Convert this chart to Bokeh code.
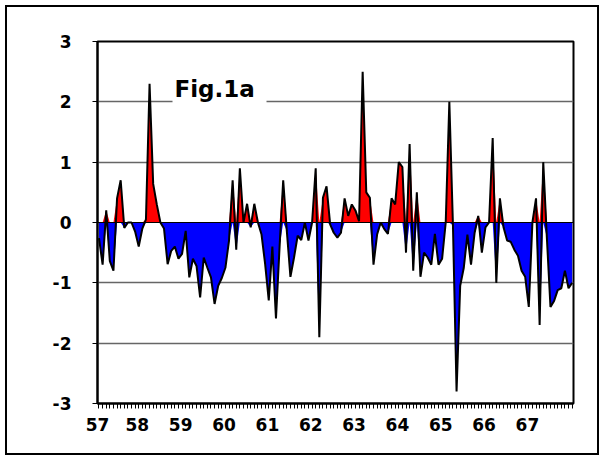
from bokeh.plotting import figure
from bokeh.models import FixedTicker, Span, Label, BoxAnnotation, ColumnDataSource, NumeralTickFormatter
from bokeh.embed import file_html
from bokeh.resources import INLINE

# ---- data ----
years = list(range(57, 68))
y_ticks = [-3, -2, -1, 0, 1, 2, 3]
grid_levels = [-2, -1, 1, 2]
values = [
    -0.26, -0.70, 0.20, -0.64, -0.80, 0.40, 0.70, -0.09, 0.00, 0.00, -0.15, -0.40,
    -0.10, 0.05, 2.30, 0.64, 0.30, 0.00, -0.10, -0.69, -0.47, -0.40, -0.60, -0.52,
    -0.14, -0.91, -0.60, -0.72, -1.24, -0.58, -0.75, -0.91, -1.35, -1.05, -0.92, -0.75,
    -0.30, 0.70, -0.45, 0.90, 0.00, 0.31, -0.08, 0.31, 0.00, -0.20, -0.69, -1.29,
    -0.40, -1.59, -0.40, 0.70, -0.14, -0.90, -0.58, -0.22, -0.29, 0.00, -0.30, 0.00,
    0.90, -1.90, 0.41, 0.60, -0.03, -0.17, -0.25, -0.17, 0.40, 0.11, 0.30, 0.20,
    0.02, 2.50, 0.50, 0.41, -0.70, -0.20, 0.00, -0.11, -0.19, 0.40, 0.30, 1.00,
    0.92, -0.50, 1.30, -0.80, 0.50, -0.90, -0.50, -0.58, -0.70, -0.19, -0.70, -0.60,
    0.00, 2.00, -0.05, -2.80, -1.05, -0.75, -0.20, -0.70, -0.17, 0.11, -0.50, -0.08,
    0.00, 1.40, -1.00, 0.40, -0.08, -0.30, -0.32, -0.45, -0.55, -0.80, -0.90, -1.40,
    0.00, 0.40, -1.70, 1.00, -0.25, -1.40, -1.30, -1.12, -1.09, -0.80, -1.09, -1.00,
]
month_index = list(range(len(values)))

x = [57 + m / 12 for m in month_index]
src = ColumnDataSource(dict(
    x=x,
    v=values,
    pos=[max(v, 0) for v in values],
    neg=[min(v, 0) for v in values],
    zero=[0] * len(values),
))

X_START, X_END = 56.9654, 67.948
LABEL_SHIFT = 0.115  # year labels sit a few pixels left of the year position

# whole chart boxed: 5px margin + 2px border round a 594x450 canvas
p = figure(width=594, height=450, x_range=(X_START, X_END), y_range=(-3, 3),
           output_backend="svg", toolbar_location=None,
           min_border_left=90, min_border_right=28, min_border_top=34, min_border_bottom=54,
           background_fill_color="white", border_fill_color="white")
p.styles = {"border": "2px solid black", "margin": "5px"}

# fills
p.varea(x="x", y1="zero", y2="pos", source=src, fill_color="#FF0000")
p.varea(x="x", y1="neg", y2="zero", source=src, fill_color="#0000FF")

# zero line
p.add_layout(Span(location=0, dimension="width", line_color="black", line_width=1.2))

# data line
p.line(x="x", y="v", source=src, line_color="black", line_width=2, level="overlay")

# grid
p.xgrid.visible = False
p.ygrid.ticker = FixedTicker(ticks=grid_levels)
p.ygrid.grid_line_color = "#666666"
p.ygrid.grid_line_width = 1.5

# title box
p.add_layout(BoxAnnotation(left=58.696, right=60.865, bottom=1.85, top=2.75,
                           fill_color="white", fill_alpha=1.0, line_color=None, level="underlay"))
p.add_layout(Label(x=58.742, y=2.22, text="Fig.1a", text_font="DejaVu Sans",
                   text_font_style="bold", text_font_size="23px", text_color="black",
                   text_baseline="alphabetic"))

# frame
p.outline_line_color = "black"
p.outline_line_width = 2
p.outline_line_alpha = 1

# x axis
p.xaxis.ticker = FixedTicker(ticks=[max(y - LABEL_SHIFT, X_START + 0.002) for y in years],
                             minor_ticks=[57 + m / 12 for m in month_index])
p.xaxis.formatter = NumeralTickFormatter(format="0")
p.xaxis.major_tick_line_color = None
p.xaxis.major_tick_out = 0
p.xaxis.major_tick_in = 0
p.xaxis.minor_tick_line_color = "black"
p.xaxis.minor_tick_out = 5
p.xaxis.minor_tick_in = 0
p.xaxis.major_label_standoff = 9

# y axis
p.yaxis.ticker = FixedTicker(ticks=y_ticks)
p.yaxis.formatter = NumeralTickFormatter(format="0")
p.yaxis.major_tick_out = 5
p.yaxis.major_tick_in = 0
p.yaxis.minor_tick_line_color = None
p.yaxis.major_label_standoff = 21

for ax in (p.xaxis, p.yaxis):
    ax.axis_line_color = "black"
    ax.axis_line_width = 2
    ax.major_label_text_font = "DejaVu Sans"
    ax.major_label_text_font_style = "bold"
    ax.major_label_text_font_size = "17px"
    ax.major_label_text_color = "black"

open("out.html", "w").write(file_html(p, INLINE))
